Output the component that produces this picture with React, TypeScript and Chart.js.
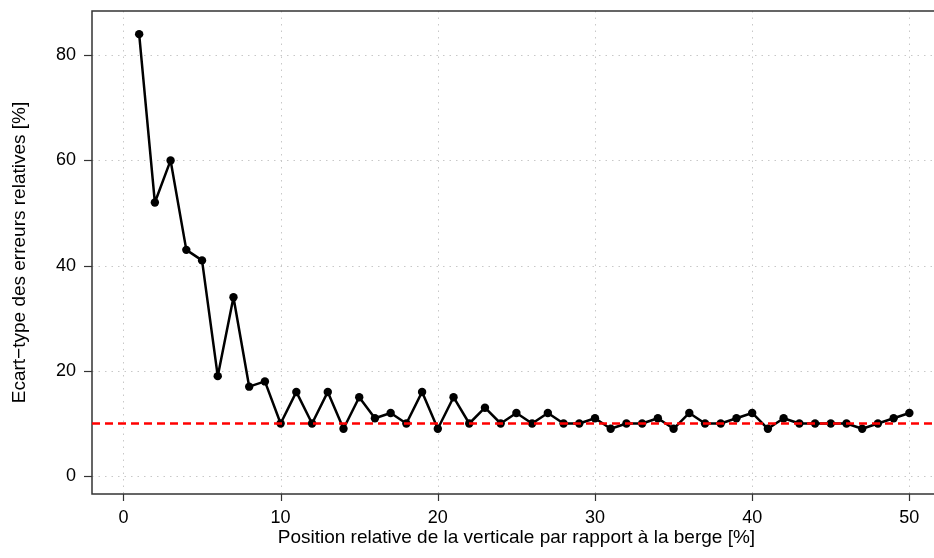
import React, { useEffect, useRef } from "react";
import { Chart, registerables } from "chart.js";

Chart.register(...registerables);

const positions = [
  1, 2, 3, 4, 5, 6, 7, 8, 9, 10, 11, 12, 13, 14, 15, 16, 17, 18, 19, 20, 21, 22, 23, 24, 25,
  26, 27, 28, 29, 30, 31, 32, 33, 34, 35, 36, 37, 38, 39, 40, 41, 42, 43, 44, 45, 46, 47, 48, 49, 50,
];
const ecartType = [
  84, 52, 60, 43, 41, 19, 34, 17, 18, 10, 16, 10, 16, 9, 15, 11, 12, 10, 16, 9, 15, 10, 13, 10, 12,
  10, 12, 10, 10, 11, 9, 10, 10, 11, 9, 12, 10, 10, 11, 12, 9, 11, 10, 10, 10, 10, 9, 10, 11, 12,
];
const referenceLevel = 10;
const xTickValues = [0, 10, 20, 30, 40, 50];
const yTickValues = [0, 20, 40, 60, 80];
const xLimits = [-2, 52];
const yLimits = [-3.4, 88.4];
const xTitle = "Position relative de la verticale par rapport à la berge [%]";
const yTitle = "Ecart\u2212type des erreurs relatives [%]";

const FONT = "'Liberation Sans', Arial, Helvetica, sans-serif";

const framePlugin = {
  id: "rframe",
  beforeDatasetsDraw(chart: any) {
    const { ctx, chartArea } = chart;
    const xs = chart.scales.x;
    const ys = chart.scales.y;
    ctx.save();
    // dotted grid
    ctx.strokeStyle = "#c8c8c8";
    ctx.lineWidth = 1;
    ctx.setLineDash([1.5, 5]);
    xTickValues.forEach((v) => {
      const px = Math.round(xs.getPixelForValue(v)) + 0.5;
      ctx.beginPath();
      ctx.moveTo(px, chartArea.top);
      ctx.lineTo(px, chartArea.bottom);
      ctx.stroke();
    });
    yTickValues.forEach((v) => {
      const py = Math.round(ys.getPixelForValue(v)) + 0.5;
      ctx.beginPath();
      ctx.moveTo(chartArea.left, py);
      ctx.lineTo(chartArea.right, py);
      ctx.stroke();
    });
    ctx.setLineDash([]);
    // box
    ctx.strokeStyle = "#333333";
    ctx.lineWidth = 1.5;
    ctx.strokeRect(chartArea.left, chartArea.top, chartArea.right - chartArea.left, chartArea.bottom - chartArea.top);
    // tick marks
    ctx.lineWidth = 1.2;
    xTickValues.forEach((v) => {
      const px = Math.round(xs.getPixelForValue(v)) + 0.5;
      ctx.beginPath();
      ctx.moveTo(px, chartArea.bottom);
      ctx.lineTo(px, chartArea.bottom + 7);
      ctx.stroke();
    });
    yTickValues.forEach((v) => {
      const py = Math.round(ys.getPixelForValue(v)) + 0.5;
      ctx.beginPath();
      ctx.moveTo(chartArea.left, py);
      ctx.lineTo(chartArea.left - 8, py);
      ctx.stroke();
    });
    ctx.restore();
  },
};

export default function App() {
  const canvasRef = useRef<HTMLCanvasElement | null>(null);

  useEffect(() => {
    const canvas = canvasRef.current;
    if (!canvas) return;
    const chart = new Chart(canvas, {
      type: "line",
      data: {
        datasets: [
          {
            label: "ref",
            data: xLimits.map((x) => ({ x, y: referenceLevel })),
            borderColor: "#ff0000",
            borderWidth: 2.5,
            borderDash: [8, 5],
            pointRadius: 0,
            fill: false,
            order: 0,
          },
          {
            label: "ecart",
            data: positions.map((x, i) => ({ x, y: ecartType[i] })),
            borderColor: "#000000",
            borderWidth: 2.5,
            borderJoinStyle: "round",
            borderCapStyle: "round",
            pointRadius: 4.2,
            pointBackgroundColor: "#000000",
            pointBorderWidth: 0,
            tension: 0,
            fill: false,
            order: 1,
          },
        ],
      },
      options: {
        responsive: false,
        animation: false,
        events: [],
        layout: { padding: { top: 11, left: 0, right: 0, bottom: 0 } },
        plugins: { legend: { display: false }, tooltip: { enabled: false } },
        scales: {
          x: {
            type: "linear",
            min: xLimits[0],
            max: xLimits[1],
            afterBuildTicks: (scale: any) => {
              scale.ticks = xTickValues.map((value) => ({ value }));
            },
            afterFit: (scale: any) => {
              scale.height = 64;
              scale.paddingLeft = 0;
              scale.paddingRight = 0;
            },
            grid: { display: false, drawTicks: false },
            border: { display: false },
            ticks: {
              padding: 13,
              maxRotation: 0,
              autoSkip: false,
              color: "#000",
              font: { family: FONT, size: 18 },
            },
            title: {
              display: true,
              text: xTitle,
              color: "#000",
              font: { family: FONT, size: 19 },
              padding: { top: 0, bottom: 8.6 },
            },
          },
          y: {
            type: "linear",
            min: yLimits[0],
            max: yLimits[1],
            afterBuildTicks: (scale: any) => {
              scale.ticks = yTickValues.map((value) => ({ value }));
            },
            afterFit: (scale: any) => {
              scale.width = 92;
              scale.paddingTop = 0;
              scale.paddingBottom = 0;
            },
            grid: { display: false, drawTicks: false },
            border: { display: false },
            ticks: {
              padding: 16,
              autoSkip: false,
              color: "#000",
              font: { family: FONT, size: 18 },
            },
            title: {
              display: true,
              text: yTitle,
              color: "#000",
              font: { family: FONT, size: 19 },
              padding: { top: 8.6, bottom: 0 },
            },
          },
        },
      },
      plugins: [framePlugin],
    } as any);
    return () => chart.destroy();
  }, []);

  return (
    <div
      style={{
        position: "fixed",
        left: 0,
        top: 0,
        width: 934,
        height: 558,
        overflow: "hidden",
        background: "#fff",
      }}
    >
      <canvas ref={canvasRef} width={945} height={558} style={{ display: "block", width: 945, height: 558 }} />
    </div>
  );
}
